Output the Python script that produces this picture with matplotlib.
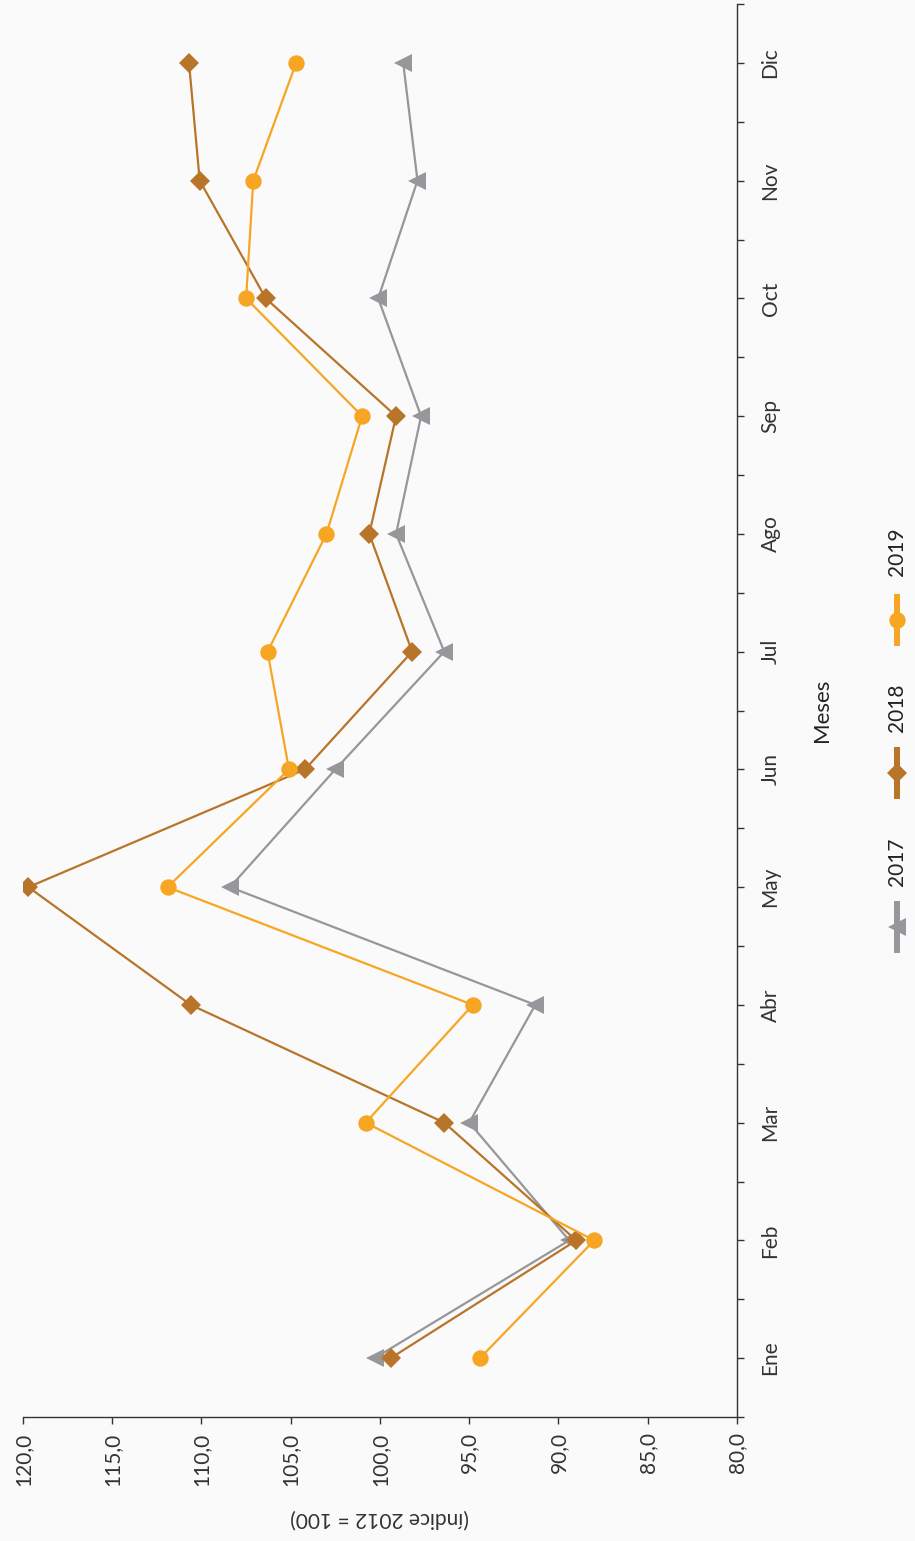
import numpy as np
import matplotlib
matplotlib.use('Agg')
import matplotlib.pyplot as plt
from matplotlib.lines import Line2D

# Chart data (original chart is shown rotated 90 degrees counter-clockwise)
meses = ['Ene', 'Feb', 'Mar', 'Abr', 'May', 'Jun', 'Jul', 'Ago', 'Sep', 'Oct', 'Nov', 'Dic']
val_2017 = [100.3, 89.4, 95.0, 91.3, 108.4, 102.5, 96.4, 99.1, 97.7, 100.1, 97.9, 98.7]
val_2018 = [99.4, 89.0, 96.4, 110.6, 119.7, 104.2, 98.2, 100.6, 99.1, 106.4, 110.1, 110.7]
val_2019 = [94.4, 88.0, 100.8, 94.8, 111.9, 105.1, 106.3, 103.0, 101.0, 107.5, 107.1, 104.7]
value_ticks = [120, 115, 110, 105, 100, 95, 90, 85, 80]
series_names = ['2017', '2018', '2019']

BG = '#fafafa'
TXT = '#333333'
colors = {'2017': '#97979b', '2018': '#b8752a', '2019': '#f6a623'}
markers = {'2017': ('<', 12.5), '2018': ('D', 10), '2019': ('o', 11.8)}

plt.rcParams['font.family'] = ['Lato', 'DejaVu Sans']

W, H = 915, 1541
fig = plt.figure(figsize=(W / 100, H / 100), dpi=100, facecolor=BG)
ax = fig.add_axes([23 / W, 1 - 1417 / H, (737 - 23) / W, (1417 - 4) / H], facecolor=BG)

pos = np.arange(len(meses))
for name, vals in zip(series_names, [val_2017, val_2018, val_2019]):
    m, ms = markers[name]
    ax.plot(vals, pos, color=colors[name], lw=1.6, marker=m, markersize=ms,
            markeredgewidth=0, label=name)

ax.set_xlim(120, 80)
ax.set_ylim(-0.5, len(meses) - 0.5)

# value axis (bottom)
ax.set_xticks(value_ticks)
ax.set_xticklabels([f'{v:.1f}'.replace('.', ',') for v in value_ticks],
                   rotation=90, fontsize=15, color=TXT)
ax.tick_params(axis='x', direction='out', length=5, width=1, color=TXT, pad=6)

# month axis (right)
ax.yaxis.tick_right()
ax.set_yticks(pos)
ax.set_yticklabels(meses, rotation=90, va='center', fontsize=15, color=TXT)
ax.set_yticks(np.arange(-0.5, len(meses), 1.0), minor=True)
ax.tick_params(axis='y', which='both', direction='out', length=5, width=1, color=TXT)
ax.tick_params(axis='y', which='major', pad=12)

for side in ['left', 'top']:
    ax.spines[side].set_visible(False)
for side in ['bottom', 'right']:
    ax.spines[side].set_color(TXT)
    ax.spines[side].set_linewidth(1)

# axis titles
fig.text(380 / W, 1 - 1518 / H, '(índice 2012 = 100)', rotation=180,
         ha='center', va='center', fontsize=15, color=TXT)
fig.text(822 / W, 1 - 710 / H, 'Meses', rotation=90,
         ha='center', va='center', fontsize=16, color='#222222')

# legend, drawn by hand because it is rotated
leg_x = 897 / W
leg_items = {'2017': (927, 862), '2018': (773, 708), '2019': (620, 552)}
for name in series_names:
    my, ty = leg_items[name]
    m, ms = markers[name]
    ys = [1 - (my + 23) / H, 1 - my / H, 1 - (my - 23) / H]
    fig.add_artist(Line2D([leg_x] * 3, ys, transform=fig.transFigure,
                          color=colors[name], lw=4.3, marker=m, markersize=ms,
                          markeredgewidth=0, markevery=[1]))
    fig.text(leg_x, 1 - ty / H, name, rotation=90, ha='center', va='center',
             fontsize=15, color='#222222')

fig.savefig('out.png', dpi=100, facecolor=BG)
